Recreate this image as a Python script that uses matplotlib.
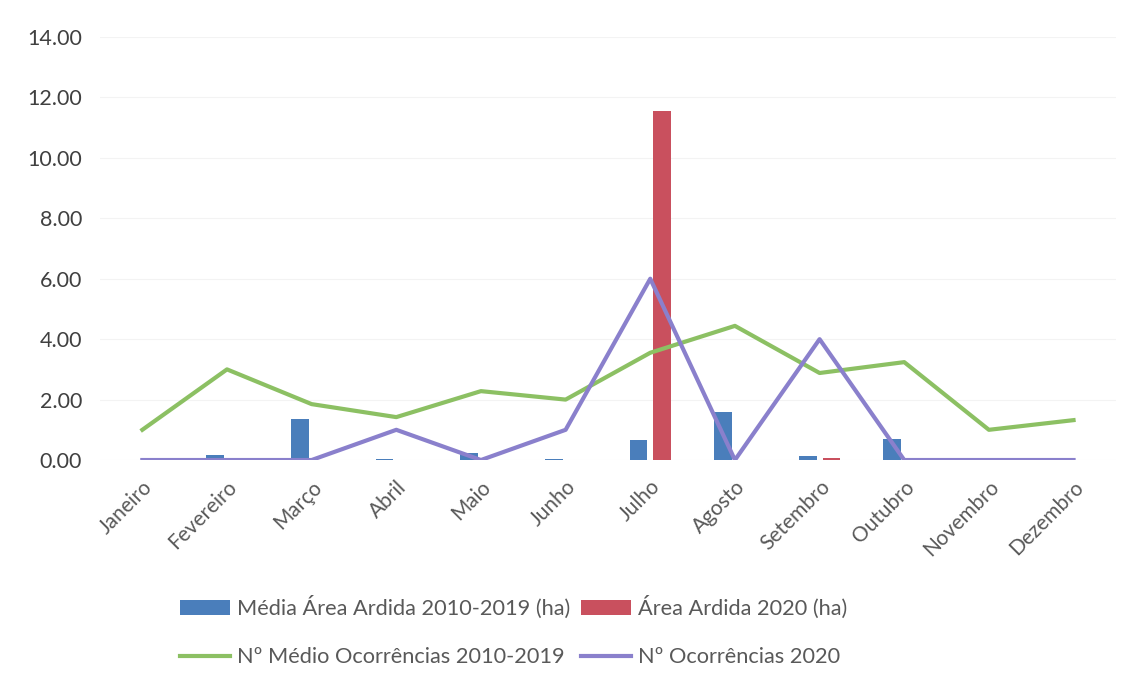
import numpy as np
import matplotlib.pyplot as plt

plt.rcParams['font.family'] = ['Lato', 'DejaVu Sans']

# dados
meses = ['Janeiro', 'Fevereiro', 'Março', 'Abril', 'Maio', 'Junho',
         'Julho', 'Agosto', 'Setembro', 'Outubro', 'Novembro', 'Dezembro']
media_area = [0.0, 0.15, 1.35, 0.05, 0.22, 0.03, 0.65, 1.60, 0.12, 0.70, 0.0, 0.0]
area_2020 = [0.0, 0.0, 0.0, 0.0, 0.0, 0.0, 11.55, 0.0, 0.08, 0.0, 0.0, 0.0]
media_ocorr = [1.0, 3.0, 1.85, 1.42, 2.28, 2.0, 3.55, 4.44, 2.88, 3.24, 1.0, 1.32]
ocorr_2020 = [0, 0, 0, 1, 0, 1, 6, 0, 4, 0, 0, 0]

x = np.arange(len(meses))
largura = 0.21

fig = plt.figure(figsize=(11.3, 6.78), dpi=100)
ax = fig.add_axes([0.0885, 0.3215, 0.899, 0.6239])

b1 = ax.bar(x - 0.14, media_area, largura, color='#4A7EBB', zorder=2)
b2 = ax.bar(x + 0.14, area_2020, largura, color='#C9505E', zorder=2)
l1, = ax.plot(x, media_ocorr, color='#8CC063', lw=3, zorder=3)
l2, = ax.plot(x, ocorr_2020, color='#8A80CC', lw=3, zorder=4)

ax.set_xlim(-0.5, 11.5)
ax.set_ylim(0, 14)
ax.set_yticks(np.arange(0, 15, 2))
ax.set_yticklabels([f'{v:.2f}' for v in np.arange(0, 15, 2)])
ax.set_xticks(x)
ax.set_xticklabels(meses, rotation=45, ha='right', rotation_mode='anchor')
ax.tick_params(axis='y', length=0, pad=13, labelsize=15.5, labelcolor='#404040')
ax.tick_params(axis='x', length=0, pad=12, labelsize=15, labelcolor='#595959')
ax.grid(axis='y', color='#f3f3f3', lw=0.8, zorder=0)
for s in ax.spines.values():
    s.set_visible(False)

# legenda: coluna 1 = azul, verde; coluna 2 = vermelho, roxo
fig.legend([b1, l1, b2, l2],
           ['Média Área Ardida 2010-2019 (ha)', 'Nº Médio Ocorrências 2010-2019',
            'Área Ardida 2020 (ha)', 'Nº Ocorrências 2020'],
           ncol=2, loc='upper left', bbox_to_anchor=(180 / 1130, 1 - 596 / 678),
           frameon=False, fontsize=15.7, handlelength=2.3, handletextpad=0.3,
           columnspacing=0.5, labelspacing=1.3, borderpad=0, borderaxespad=0,
           labelcolor='#595959')

plt.savefig('out.png', dpi=100)
